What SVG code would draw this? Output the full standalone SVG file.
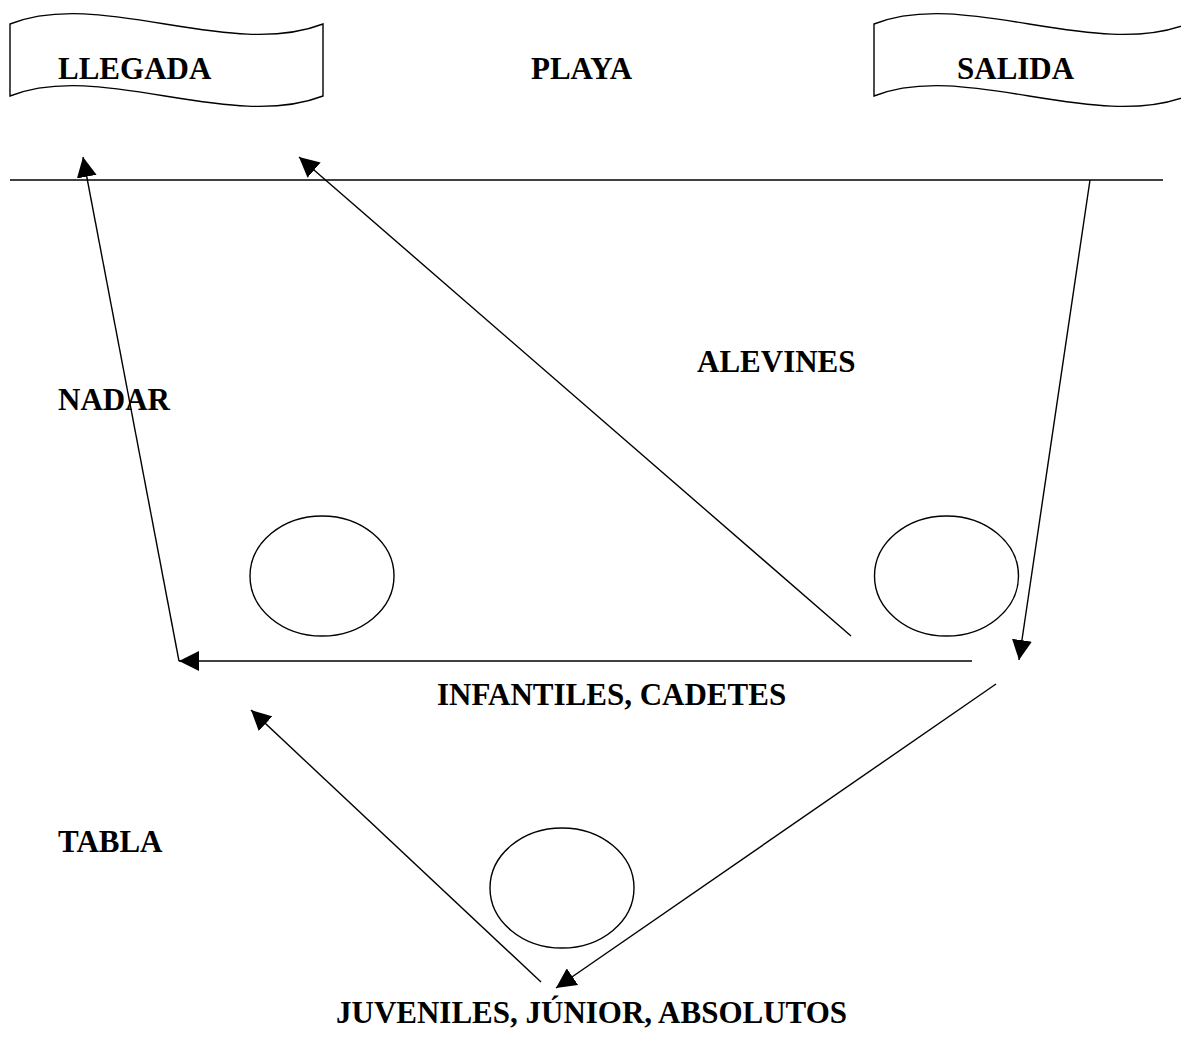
<svg xmlns="http://www.w3.org/2000/svg" width="1181" height="1039" viewBox="0 0 1181 1039">
<style>
.t{font-family:"Liberation Serif","Times New Roman",serif;font-weight:bold;font-size:31px;fill:#000}
.s{fill:#fff;stroke:#000;stroke-width:1.4}
.c{stroke:#000;stroke-width:1.4;fill:none}
</style>
<defs>
<marker id="ah" markerUnits="userSpaceOnUse" markerWidth="20" markerHeight="20" refX="20" refY="10" orient="auto" viewBox="0 0 20 20">
<path d="M0,0 L20,10 L0,20 z" fill="#000"/>
</marker>
</defs>
<rect width="1181" height="1039" fill="#fff"/>
<g id="llegada">
<path class="s" d="M10,24 C100,-12 230,60 323,24 L323,96 C230,132 100,60 10,96 Z"/>
<text class="t" x="58" y="79">LLEGADA</text>
</g>
<g id="playa">
<text class="t" x="531" y="79">PLAYA</text>
</g>
<g id="salida">
<path class="s" d="M874,24 C964,-12 1094,60 1187,24 L1187,96 C1094,132 964,60 874,96 Z"/>
<text class="t" x="957" y="79">SALIDA</text>
</g>
<g id="shore">
<line class="c" x1="10" y1="180" x2="1163" y2="180"/>
</g>
<g id="ball-left"><ellipse class="s" cx="322" cy="576" rx="72" ry="60"/></g>
<g id="ball-right"><ellipse class="s" cx="946.5" cy="576" rx="72" ry="60"/></g>
<g id="ball-bottom"><ellipse class="s" cx="562" cy="888" rx="72" ry="60"/></g>
<g id="labels">
<text class="t" x="58" y="410">NADAR</text>
<text class="t" x="697" y="372">ALEVINES</text>
<text class="t" x="437" y="705">INFANTILES, CADETES</text>
<text class="t" x="58" y="852">TABLA</text>
<text class="t" x="336" y="1023">JUVENILES, JÚNIOR, ABSOLUTOS</text>
</g>
<g id="connectors">
<line class="c" x1="179" y1="661" x2="83" y2="157" marker-end="url(#ah)"/>
<line class="c" x1="851" y1="636" x2="299" y2="157" marker-end="url(#ah)"/>
<line class="c" x1="1090" y1="180" x2="1019" y2="660" marker-end="url(#ah)"/>
<line class="c" x1="972" y1="661" x2="179" y2="661" marker-end="url(#ah)"/>
<line class="c" x1="996" y1="684" x2="556" y2="988" marker-end="url(#ah)"/>
<line class="c" x1="541" y1="982" x2="251" y2="710" marker-end="url(#ah)"/>
</g>
</svg>
